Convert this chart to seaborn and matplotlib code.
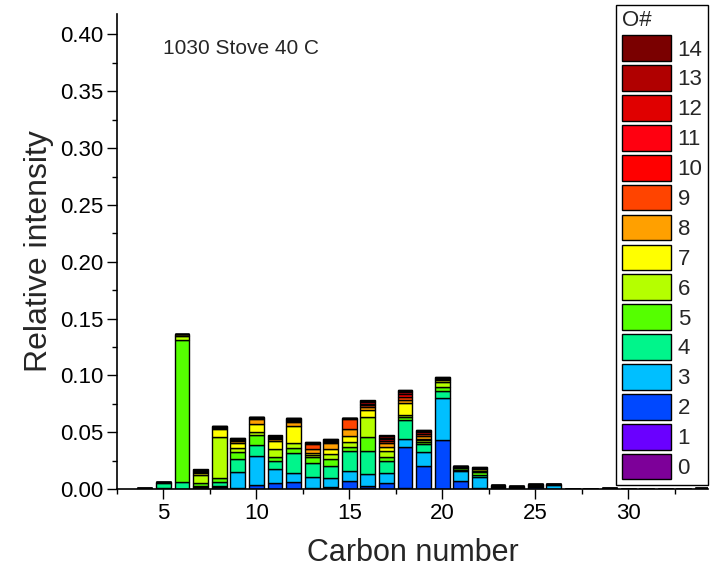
import matplotlib
matplotlib.use("Agg")
import matplotlib.pyplot as plt
from matplotlib.patches import Patch
from matplotlib.ticker import AutoMinorLocator
import seaborn as sns
import pandas as pd

# ---------------- data ----------------
o_levels = list(range(15))  # O# 0..14
o_colors = ["#7D0099", "#6A00FF", "#0048FF", "#00BFFF", "#00F58B",
            "#55FF00", "#B5FF00", "#FFFF00", "#FFA000", "#FF4400",
            "#FF0000", "#FF0010", "#E00000", "#B00000", "#7A0000"]

carbon = [4, 5, 6, 7, 8, 9, 10, 11, 12, 13, 14, 15, 16, 17, 18, 19, 20,
          21, 22, 23, 24, 25, 26, 29, 34]

# relative intensity of each O# (0..14) for each carbon number
c04 = [0, 0, 0, 0, 0.0008, 0, 0, 0, 0, 0, 0, 0, 0, 0, 0]
c05 = [0, 0, 0, 0.001, 0.004, 0.001, 0, 0, 0, 0, 0, 0, 0, 0, 0]
c06 = [0, 0, 0, 0, 0.006, 0.125, 0.004, 0.001, 0, 0, 0, 0, 0, 0, 0]
c07 = [0, 0, 0.0005, 0.001, 0.0015, 0.002, 0.0075, 0.0015, 0.001, 0.0008, 0.0005, 0.0003, 0.0003, 0.0002, 0.0002]
c08 = [0, 0.0003, 0.0012, 0.0015, 0.003, 0.004, 0.036, 0.0065, 0.001, 0.0007, 0.0004, 0.0003, 0.0003, 0.0002, 0.0002]
c09 = [0, 0.0002, 0.001, 0.0135, 0.0113, 0.0063, 0.0035, 0.005, 0.0018, 0.0008, 0.0004, 0.0003, 0.0003, 0.0002, 0.0001]
c10 = [0, 0.0003, 0.0032, 0.0255, 0.0098, 0.0088, 0.0029, 0.0068, 0.0041, 0.0008, 0.0005, 0.0003, 0.0003, 0.0002, 0.0002]
c11 = [0, 0.0003, 0.0047, 0.0123, 0.0077, 0.0029, 0.0073, 0.0071, 0.0015, 0.0012, 0.0008, 0.0006, 0.0004, 0.0003, 0.0005]
c12 = [0, 0.0003, 0.0062, 0.0079, 0.0176, 0.0038, 0.0044, 0.0156, 0.0035, 0.001, 0.0008, 0.0006, 0.0005, 0.0003, 0.0003]
c13 = [0, 0.0002, 0.001, 0.0091, 0.0129, 0.0047, 0.0021, 0.002, 0.003, 0.0046, 0.0006, 0.0004, 0.0002, 0.0002, 0.0001]
c14 = [0, 0.0005, 0.0015, 0.008, 0.0106, 0.0058, 0.0041, 0.0047, 0.005, 0.0012, 0.0008, 0.0006, 0.0005, 0.0004, 0.0003]
c15 = [0, 0.0004, 0.0066, 0.0089, 0.0179, 0.0029, 0.005, 0.005, 0.0062, 0.0088, 0.0005, 0.0003, 0.0001, 0.0001, 0.0001]
c16 = [0, 0.0005, 0.002, 0.0104, 0.0206, 0.0126, 0.0176, 0.0059, 0.0025, 0.0015, 0.0015, 0.0012, 0.001, 0.0006, 0.0005]
c17 = [0, 0.0003, 0.0047, 0.0094, 0.0106, 0.0035, 0.005, 0.0038, 0.0035, 0.0018, 0.0015, 0.0012, 0.001, 0.0007, 0.0006]
c18 = [0, 0.0005, 0.0362, 0.0073, 0.0168, 0.0029, 0.0012, 0.0106, 0.0029, 0.0026, 0.003, 0.0015, 0.0009, 0.0005, 0.0003]
c19 = [0, 0.0003, 0.0202, 0.0124, 0.0065, 0.0023, 0.0015, 0.0012, 0.002, 0.002, 0.0015, 0.001, 0.0005, 0.0004, 0.0003]
c20 = [0, 0.0003, 0.0429, 0.0373, 0.0061, 0.0035, 0.0045, 0.0012, 0.0008, 0.0005, 0.0004, 0.0003, 0.0002, 0.0002, 0.0002]
c21 = [0, 0.0002, 0.0068, 0.0091, 0.001, 0.001, 0.0008, 0.0005, 0.0004, 0.0002, 0.0001, 0.0001, 0.0001, 0, 0]
c22 = [0, 0.0001, 0.0008, 0.01, 0.0019, 0.0018, 0.0017, 0.001, 0.0006, 0.0004, 0.0003, 0.0002, 0.0001, 0.0001, 0.0001]
c23 = [0, 0, 0.0008, 0.0012, 0.0006, 0.0005, 0.0004, 0.0003, 0.0002, 0, 0, 0, 0, 0, 0]
c24 = [0, 0, 0.0005, 0.0007, 0.0005, 0.0004, 0.0002, 0.0002, 0, 0, 0, 0, 0, 0, 0]
c25 = [0, 0, 0.0015, 0.001, 0.0007, 0.0005, 0.0004, 0.0002, 0.0002, 0, 0, 0, 0, 0, 0]
c26 = [0, 0, 0.0003, 0.0035, 0.0004, 0.0002, 0.0001, 0, 0, 0, 0, 0, 0, 0, 0]
c29 = [0, 0, 0, 0, 0.0005, 0.0004, 0.0003, 0, 0, 0, 0, 0, 0, 0, 0]
c34 = [0, 0, 0, 0.0004, 0.0004, 0, 0, 0, 0, 0, 0, 0, 0, 0, 0]

rows = [c04, c05, c06, c07, c08, c09, c10, c11, c12, c13, c14, c15, c16,
        c17, c18, c19, c20, c21, c22, c23, c24, c25, c26, c29, c34]

x_ticks = [5, 10, 15, 20, 25, 30]
y_ticks = [0.00, 0.05, 0.10, 0.15, 0.20, 0.25, 0.30, 0.35, 0.40]

# ---------------- long table ----------------
records = []
for c, row in zip(carbon, rows):
    for o, v in zip(o_levels, row):
        records.append({"Carbon": c, "O#": str(o), "Intensity": v})
df = pd.DataFrame(records)

# ---------------- plot ----------------
sns.set_style("ticks")
plt.rcParams["font.family"] = ["Liberation Sans", "DejaVu Sans"]

fig = plt.figure(figsize=(7.12, 5.74), dpi=100)
ax = fig.add_axes([0.1643, 0.148, 0.8301, 0.8276])

hue_order = [str(o) for o in o_levels[::-1]]  # last level stacked at bottom
palette = {str(o): col for o, col in zip(o_levels, o_colors)}

sns.histplot(data=df, x="Carbon", weights="Intensity", hue="O#",
             hue_order=hue_order, palette=palette, multiple="stack",
             discrete=True, shrink=0.8, edgecolor="black", linewidth=1.0,
             alpha=1.0, legend=False, ax=ax)

ax.set_xlim(2.5, 34.3)
ax.set_ylim(0, 0.418)
ax.set_xticks(x_ticks)
ax.set_yticks(y_ticks)
ax.set_yticklabels([f"{v:.2f}" for v in y_ticks])
ax.xaxis.set_minor_locator(AutoMinorLocator(2))
ax.yaxis.set_minor_locator(AutoMinorLocator(2))
ax.tick_params(axis="both", which="major", direction="out", length=7,
               width=1, labelsize=16, color="black", labelcolor="black")
ax.tick_params(axis="both", which="major", pad=3)
ax.tick_params(axis="both", which="minor", direction="out", length=3.5,
               width=1, color="black")

for side in ["top", "right"]:
    ax.spines[side].set_visible(False)
for side in ["left", "bottom"]:
    ax.spines[side].set_color("black")
    ax.spines[side].set_linewidth(1.2)

ax.set_xlabel("Carbon number", fontsize=22, labelpad=10)
ax.set_ylabel("Relative intensity", fontsize=23, labelpad=4)

ax.text(0.078, 0.928, "1030 Stove 40 C", transform=ax.transAxes,
        fontsize=15, va="center", ha="left")

handles = [Patch(facecolor=palette[str(o)], edgecolor="black", linewidth=1)
           for o in o_levels[::-1]]
labels = [str(o) for o in o_levels[::-1]]
leg = ax.legend(handles, labels, title="O#", loc="upper right",
                bbox_to_anchor=(1.0, 1.02), borderaxespad=0, fontsize=16,
                title_fontsize=16, handlelength=2.2, handleheight=1.4,
                labelspacing=0.19, handletextpad=0.3, borderpad=0.25,
                frameon=True, fancybox=False, framealpha=1,
                edgecolor="black", alignment="left")
leg.get_frame().set_linewidth(1)

fig.savefig("out.png", dpi=100)
